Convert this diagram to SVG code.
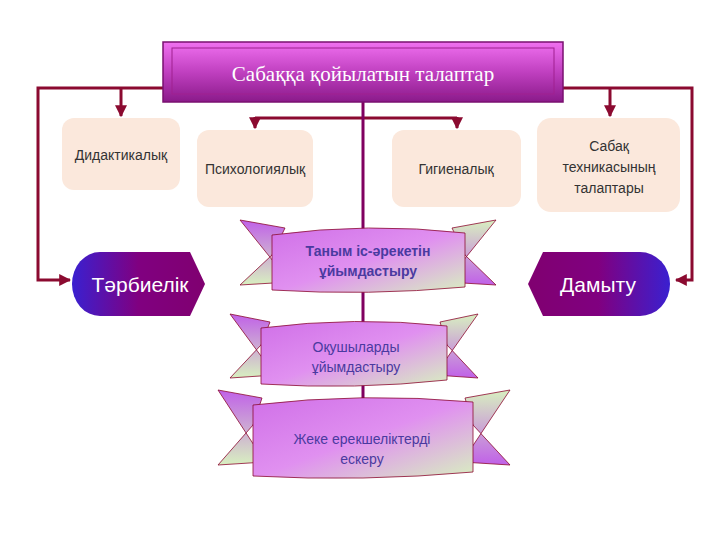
<svg xmlns="http://www.w3.org/2000/svg" width="720" height="540" viewBox="0 0 720 540">
<defs>
<linearGradient id="tg" x1="0" y1="0" x2="0" y2="1"><stop offset="0" stop-color="#f070f0"/><stop offset="0.5" stop-color="#c040c0"/><stop offset="1" stop-color="#8a1a8a"/></linearGradient>
<linearGradient id="rg" x1="0" y1="0" x2="1" y2="1"><stop offset="0" stop-color="#d070e8"/><stop offset="0.5" stop-color="#e090f0"/><stop offset="1" stop-color="#d8f0c0"/></linearGradient>
<linearGradient id="eg1" x1="0" y1="0" x2="0" y2="1"><stop offset="0" stop-color="#c060e8"/><stop offset="1" stop-color="#d8f0c0"/></linearGradient>
<linearGradient id="eg2" x1="0" y1="0" x2="0" y2="1"><stop offset="0" stop-color="#d8f0c0"/><stop offset="1" stop-color="#c060e8"/></linearGradient>
<linearGradient id="hg" x1="0" y1="0" x2="1" y2="0"><stop offset="0" stop-color="#3a20d0"/><stop offset="0.5" stop-color="#800080"/><stop offset="1" stop-color="#800070"/></linearGradient>
<linearGradient id="hg2" x1="1" y1="0" x2="0" y2="0"><stop offset="0" stop-color="#3a20d0"/><stop offset="0.5" stop-color="#800080"/><stop offset="1" stop-color="#800070"/></linearGradient>
<marker id="ar" viewBox="0 0 10 10" refX="9" refY="5" markerWidth="4" markerHeight="4" orient="auto"><path d="M0,0L10,5L0,10z" fill="#8b0a30"/></marker>
<style>
.ln{stroke:#8b0a30;stroke-width:3;fill:none}
.bx{fill:#fbe8dc}
.t{font-family:"Liberation Sans",Arial,sans-serif;font-size:14px;fill:#333;text-anchor:middle}
.rt{font-family:"Liberation Sans",Arial,sans-serif;font-size:14px;fill:#4a3aa0;text-anchor:middle}
.ht{font-family:"Liberation Sans",Arial,sans-serif;font-size:21px;fill:#fff;text-anchor:middle}
.ear{stroke:#8b0a30;stroke-width:0.8}
</style>
</defs>
<g id="connectors">
<path class="ln" d="M163,88H38V280H70" marker-end="url(#ar)"/>
<path class="ln" d="M563,88H692V280H676" marker-end="url(#ar)"/>
<path class="ln" d="M121,88V116" marker-end="url(#ar)"/>
<path class="ln" d="M610,88V116" marker-end="url(#ar)"/>
<path class="ln" d="M255,118H457"/>
<path class="ln" d="M255,117V128" marker-end="url(#ar)"/>
<path class="ln" d="M457,117V128" marker-end="url(#ar)"/>
<path d="M363,102V420" stroke="#800060" stroke-width="3"/>
</g>
<g id="title">
<rect x="163" y="42" width="400" height="60" fill="url(#tg)" stroke="#7a1070" stroke-width="1.5"/>
<rect x="172" y="48" width="382" height="46" fill="none" stroke="#a02090" stroke-width="1"/>
<text x="363" y="81" font-family="Liberation Serif,serif" font-size="21" fill="#fff" text-anchor="middle">Сабаққа қойылатын талаптар</text>
</g>
<g id="didaktik"><rect class="bx" x="62" y="118" width="118" height="72" rx="12"/><text class="t" x="121" y="160">Дидактикалық</text></g>
<g id="psych"><rect class="bx" x="197" y="130" width="116" height="77" rx="12"/><text class="t" x="255" y="174">Психологиялық</text></g>
<g id="gig"><rect class="bx" x="392" y="130" width="129" height="77" rx="12"/><text class="t" x="456" y="174">Гигиеналық</text></g>
<g id="sabak"><rect class="bx" x="537" y="118" width="143" height="94" rx="14"/><text class="t" x="609" y="151">Сабақ</text><text class="t" x="609" y="172">техникасының</text><text class="t" x="609" y="193">талаптары</text></g>
<g id="tarb"><path d="M100,252H190L205,284L190,316H100A28,32 0 0 1 100,252Z" fill="url(#hg)"/><text class="ht" x="140" y="292">Тәрбиелік</text></g>
<g id="damytu"><path d="M543,252H640A30,32 0 0 1 640,316H543L528,284Z" fill="url(#hg2)"/><text class="ht" x="598" y="292">Дамыту</text></g>
<g id="r1">
<path class="ear" d="M240,220L285,228L272,255L240,285L290,282Z" fill="url(#eg1)"/>
<path class="ear" d="M496,220L452,228L465,255L496,285L446,282Z" fill="url(#eg2)"/>
<path d="M272,235Q368,222 465,233V287Q368,296 272,290Z" fill="url(#rg)" stroke="#8b0a30" stroke-width="0.8"/>
<text class="rt" x="368" y="256" font-weight="bold">Таным іс-әрекетін</text><text class="rt" x="368" y="276" font-weight="bold">ұйымдастыру</text>
</g>
<g id="r2">
<path class="ear" d="M230,314L270,322L261,345L230,378L275,375Z" fill="url(#eg1)"/>
<path class="ear" d="M478,314L440,322L447,345L478,378L435,375Z" fill="url(#eg2)"/>
<path d="M261,328Q355,316 447,326V380Q355,390 261,384Z" fill="url(#rg)" stroke="#8b0a30" stroke-width="0.8"/>
<text class="rt" x="356" y="352">Оқушыларды</text><text class="rt" x="356" y="372">ұйымдастыру</text>
</g>
<g id="r3">
<path class="ear" d="M218,390L262,398L253,425L218,465L265,462Z" fill="url(#eg1)"/>
<path class="ear" d="M510,390L465,398L473,425L510,465L462,462Z" fill="url(#eg2)"/>
<path d="M253,405Q363,392 473,402V472Q363,482 253,476Z" fill="url(#rg)" stroke="#8b0a30" stroke-width="0.8"/>
<text class="rt" x="362" y="444">Жеке ерекшеліктерді</text><text class="rt" x="362" y="464">ескеру</text>
</g>
</svg>
